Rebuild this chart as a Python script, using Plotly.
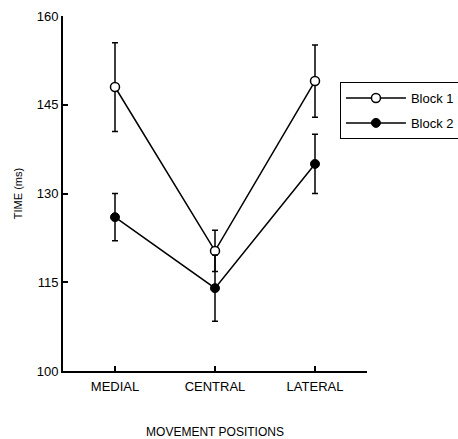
import plotly.graph_objects as go

categories = ["MEDIAL", "CENTRAL", "LATERAL"]
block1 = [148, 120.3, 149]
block1_err = [7.5, 3.5, 6.1]
block2 = [126, 114, 135]
block2_err = [4, 5.6, 5]
yticks = [100, 115, 130, 145, 160]

xpos = list(range(len(categories)))
font = dict(family="Liberation Sans, Arial, sans-serif", color="black", size=13)

fig = go.Figure()
fig.add_trace(go.Scatter(
    x=xpos, y=block1, name="Block 1", mode="lines+markers", legendgroup="b1",
    line=dict(color="black", width=1.5),
    marker=dict(symbol="circle", size=9, color="white", line=dict(color="black", width=1.5)),
    error_y=dict(type="data", array=block1_err, color="black", thickness=1.5, width=3),
))
fig.add_trace(go.Scatter(
    x=xpos, y=block2, name="Block 2", mode="lines+markers", legendgroup="b2",
    line=dict(color="black", width=1.5),
    marker=dict(symbol="circle", size=9, color="black", line=dict(color="black", width=1)),
    error_y=dict(type="data", array=block2_err, color="black", thickness=1.5, width=3),
))

fig.update_layout(
    width=458, height=439,
    margin=dict(l=63, r=91, t=16, b=68, autoexpand=False),
    paper_bgcolor="white", plot_bgcolor="white",
    font=font,
    showlegend=True,
    legend=dict(
        x=0.911, y=0.814, xanchor="left", yanchor="top",
        bordercolor="black", borderwidth=1, bgcolor="white",
        font=dict(family="Liberation Sans, Arial, sans-serif", size=13, color="black"),
        itemwidth=60, tracegroupgap=5,
    ),
    xaxis=dict(
        range=[-0.52, 2.52], tickvals=xpos, ticktext=categories, automargin=False,
        showline=True, linecolor="black", linewidth=2, showgrid=False, zeroline=False,
        ticks="inside", ticklen=5, tickwidth=1.5, tickcolor="black",
        tickfont=dict(size=13, color="black"), ticklabelstandoff=2,
        title=dict(text="MOVEMENT POSITIONS", font=dict(size=12, color="black"), standoff=36),
    ),
    yaxis=dict(
        range=[100, 160], tickvals=yticks, automargin=False,
        showline=True, linecolor="black", linewidth=2, showgrid=False, zeroline=False,
        ticks="inside", ticklen=5, tickwidth=1.5, tickcolor="black",
        tickfont=dict(size=13, color="black"),
        title=dict(text="TIME (ms)", font=dict(size=11, color="black"), standoff=12),
    ),
)

fig.write_html("out.html")
